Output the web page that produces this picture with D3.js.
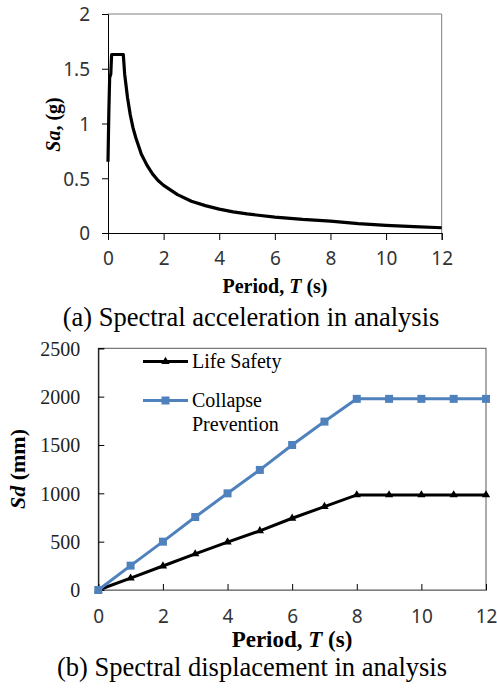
<!DOCTYPE html>
<html>
<head>
<meta charset="utf-8">
<script src="https://cdn.jsdelivr.net/npm/d3@7"></script>
<style>
  body { margin: 0; background: #fff; }
  svg { display: block; }
</style>
</head>
<body>
<svg id="chart" width="497" height="691"></svg>
<script>
// (a) spectral acceleration
var periodA = [0, 0.03, 0.06, 0.1, 0.13, 0.55, 0.6, 0.7, 0.8, 0.9, 1.0, 1.2, 1.4, 1.6, 1.8, 2.0, 2.5, 3.0, 3.5, 4.0, 4.5, 5.0, 6.0, 7.0, 8.0, 9.0, 10.0, 11.0, 12.0];
var saValues = [0.65, 1.1, 1.42, 1.45, 1.63, 1.63, 1.45, 1.24, 1.08, 0.96, 0.87, 0.72, 0.62, 0.54, 0.48, 0.435, 0.35, 0.29, 0.25, 0.218, 0.193, 0.174, 0.145, 0.124, 0.109, 0.086, 0.07, 0.058, 0.048];

// (b) spectral displacement
var periodB = [0, 1, 2, 3, 4, 5, 6, 7, 8, 9, 10, 11, 12];
var lifeSafety = [0, 122, 248, 373, 495, 612, 742, 862, 983, 983, 983, 983, 983];
var collapsePrev = [0, 252, 500, 755, 1000, 1242, 1500, 1742, 1977, 1977, 1977, 1977, 1977];

var xTicks = [0, 2, 4, 6, 8, 10, 12];
var saTicks = [0, 0.5, 1, 1.5, 2];
var sdTicks = [0, 500, 1000, 1500, 2000, 2500];

var serif = "'Liberation Serif', 'Times New Roman', serif";
var sans = "'Noto Sans', 'Open Sans', sans-serif";
var blue = "#4f81bd";

var svg = d3.select("#chart");

// ---------- top chart ----------
var xA = d3.scaleLinear().domain([0, 12]).range([108, 441.7]);
var yA = d3.scaleLinear().domain([0, 2]).range([233, 14]);

var gA = svg.append("g");

gA.append("line").attr("x1", xA(0)).attr("x2", xA(12)).attr("y1", yA(2)).attr("y2", yA(2))
    .attr("stroke", "#7f7f7f").attr("stroke-width", 1);
gA.append("line").attr("x1", xA(12)).attr("x2", xA(12)).attr("y1", yA(2)).attr("y2", yA(0))
    .attr("stroke", "#7f7f7f").attr("stroke-width", 1);

var axA = gA.append("g").attr("transform", "translate(0," + yA(0) + ")")
    .call(d3.axisBottom(xA).tickValues(xTicks).tickSize(7).tickPadding(12).tickFormat(d3.format("d")));
var ayA = gA.append("g").attr("transform", "translate(" + xA(0) + ",0)")
    .call(d3.axisLeft(yA).tickValues(saTicks).tickSize(6).tickPadding(12).tickFormat(function(d) { return d; }));

[axA, ayA].forEach(function(a) {
    a.select(".domain").attr("stroke", "#000");
    a.selectAll(".tick line").attr("stroke", "#000");
    a.selectAll(".tick text").attr("font-family", sans).attr("font-size", 19).attr("fill", "#333");
});
ayA.selectAll(".tick text").attr("dy", "0.36em");

gA.append("path")
    .datum(periodA.map(function(t, i) { return [t, saValues[i]]; }))
    .attr("fill", "none").attr("stroke", "#000").attr("stroke-width", 3.2)
    .attr("stroke-linejoin", "round")
    .attr("d", d3.line().x(function(d) { return xA(d[0]); }).y(function(d) { return yA(d[1]); }));

var tA = gA.append("text").attr("x", 275).attr("y", 293).attr("text-anchor", "middle")
    .attr("font-family", serif).attr("font-size", 20).attr("font-weight", "bold");
tA.append("tspan").text("Period, ");
tA.append("tspan").attr("font-style", "italic").text("T");
tA.append("tspan").text(" (s)");

var yAT = gA.append("text").attr("transform", "translate(60,124.5) rotate(-90)").attr("text-anchor", "middle")
    .attr("font-family", serif).attr("font-size", 20).attr("font-weight", "bold");
yAT.append("tspan").attr("font-style", "italic").text("Sa");
yAT.append("tspan").text(", (g)");

svg.append("text").attr("x", 251).attr("y", 326).attr("text-anchor", "middle")
    .attr("font-family", serif).attr("font-size", 26.5).text("(a) Spectral acceleration in analysis");

// ---------- bottom chart ----------
var xB = d3.scaleLinear().domain([0, 12]).range([98.3, 486]);
var yB = d3.scaleLinear().domain([0, 2500]).range([590, 348.3]);

var gB = svg.append("g");

gB.append("rect").attr("x", xB(0)).attr("y", yB(2500))
    .attr("width", xB(12) - xB(0)).attr("height", yB(0) - yB(2500))
    .attr("fill", "none").attr("stroke", "#595959").attr("stroke-width", 1);

var axB = gB.append("g").attr("transform", "translate(0," + yB(0) + ")")
    .call(d3.axisBottom(xB).tickValues(xTicks).tickSize(-6).tickPadding(20).tickFormat(d3.format("d")));
var ayB = gB.append("g").attr("transform", "translate(" + xB(0) + ",0)")
    .call(d3.axisLeft(yB).tickValues(sdTicks).tickSize(-6).tickPadding(18).tickFormat(d3.format("d")));

axB.select(".domain").attr("stroke", "#7f7f7f");
ayB.select(".domain").attr("stroke", "#000");
axB.selectAll(".tick line").attr("stroke", "#000");
ayB.selectAll(".tick line").attr("stroke", "#000");
axB.selectAll(".tick text").attr("font-family", sans).attr("font-size", 19).attr("fill", "#333");
ayB.selectAll(".tick text").attr("font-family", serif).attr("font-size", 20).attr("fill", "#222").attr("dy", "0.34em");

var lineB = d3.line().x(function(d) { return xB(d[0]); }).y(function(d) { return yB(d[1]); });
var lsPts = periodB.map(function(t, i) { return [t, lifeSafety[i]]; });
var cpPts = periodB.map(function(t, i) { return [t, collapsePrev[i]]; });

gB.append("path").datum(lsPts).attr("fill", "none").attr("stroke", "#000")
    .attr("stroke-width", 3).attr("d", lineB);
gB.append("path").datum(cpPts).attr("fill", "none").attr("stroke", blue)
    .attr("stroke-width", 3).attr("d", lineB);

var tri = d3.symbol().type(d3.symbolTriangle).size(30);
gB.selectAll(".ls").data(lsPts).enter().append("path")
    .attr("transform", function(d) { return "translate(" + xB(d[0]) + "," + yB(d[1]) + ")"; })
    .attr("d", tri).attr("fill", "#000");
gB.selectAll(".cp").data(cpPts).enter().append("rect")
    .attr("x", function(d) { return xB(d[0]) - 4; })
    .attr("y", function(d) { return yB(d[1]) - 4; })
    .attr("width", 8).attr("height", 8).attr("fill", blue);

// legend
var leg = gB.append("g");
leg.append("line").attr("x1", 143).attr("x2", 188).attr("y1", 361.5).attr("y2", 361.5)
    .attr("stroke", "#000").attr("stroke-width", 3);
leg.append("path").attr("transform", "translate(165.5,361.5)").attr("d", tri).attr("fill", "#000");
leg.append("text").attr("x", 192).attr("y", 367.5).attr("font-family", serif).attr("font-size", 20)
    .text("Life Safety");
leg.append("line").attr("x1", 143).attr("x2", 188).attr("y1", 400.5).attr("y2", 400.5)
    .attr("stroke", blue).attr("stroke-width", 3);
leg.append("rect").attr("x", 161.5).attr("y", 396.5).attr("width", 8).attr("height", 8).attr("fill", blue);
leg.append("text").attr("x", 192).attr("y", 407).attr("font-family", serif).attr("font-size", 20)
    .text("Collapse");
leg.append("text").attr("x", 192).attr("y", 431).attr("font-family", serif).attr("font-size", 20)
    .text("Prevention");

var tB = gB.append("text").attr("x", 292).attr("y", 647).attr("text-anchor", "middle")
    .attr("font-family", serif).attr("font-size", 23).attr("font-weight", "bold");
tB.append("tspan").text("Period, ");
tB.append("tspan").attr("font-style", "italic").text("T");
tB.append("tspan").text(" (s)");

var yBT = gB.append("text").attr("transform", "translate(25,469) rotate(-90)").attr("text-anchor", "middle")
    .attr("font-family", serif).attr("font-size", 22).attr("font-weight", "bold");
yBT.append("tspan").attr("font-style", "italic").text("Sd");
yBT.append("tspan").text(" (mm)");

svg.append("text").attr("x", 252).attr("y", 676).attr("text-anchor", "middle")
    .attr("font-family", serif).attr("font-size", 26.5).text("(b) Spectral displacement in analysis");
</script>
</body>
</html>
